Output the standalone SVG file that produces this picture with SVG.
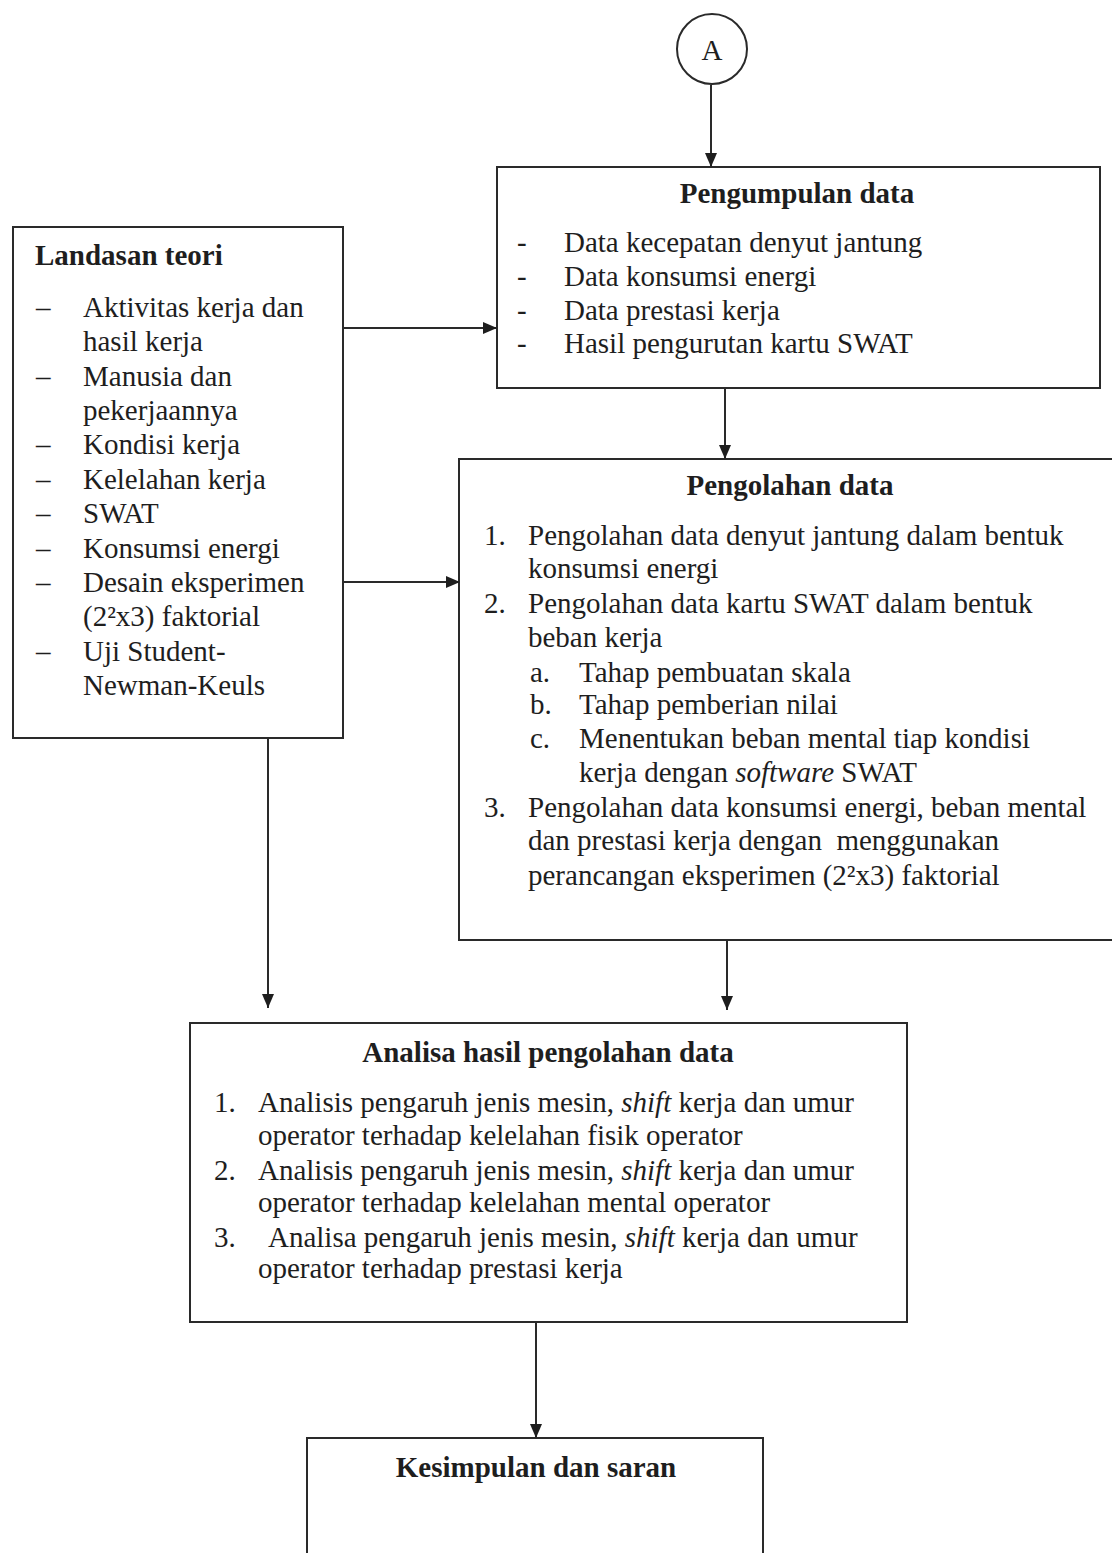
<svg xmlns="http://www.w3.org/2000/svg" width="1112" height="1553" viewBox="0 0 1112 1553">
<style>
.box{fill:none;stroke:#2a2a2a;stroke-width:2}
.t{font-family:"Liberation Serif","Times New Roman",serif;font-size:29px;fill:#1e1e1e}
.b{font-weight:bold;text-anchor:middle}
.i{font-style:italic}
.con{fill:none;stroke:#2a2a2a;stroke-width:2}
</style>
<defs>
<marker id="ah" markerUnits="userSpaceOnUse" markerWidth="14" markerHeight="14" viewBox="0 0 14 14" refX="14" refY="7" orient="auto">
<path d="M0,1 L14,7 L0,13 Z" fill="#1e1e1e"/>
</marker>
</defs>
<rect width="1112" height="1553" fill="#ffffff"/>

<g id="node-a">
<circle cx="712" cy="49" r="35" class="box"/>
<text x="712" y="60" class="t" text-anchor="middle" font-size="27">A</text>
</g>

<g id="node-pengumpulan">
<rect x="497" y="167" width="603" height="221" class="box"/>
<text x="797" y="203" class="t b">Pengumpulan data</text>
<text x="517" y="252" class="t">-</text><text x="564" y="252" class="t">Data kecepatan denyut jantung</text>
<text x="517" y="286" class="t">-</text><text x="564" y="286" class="t">Data konsumsi energi</text>
<text x="517" y="320" class="t">-</text><text x="564" y="320" class="t">Data prestasi kerja</text>
<text x="517" y="353" class="t">-</text><text x="564" y="353" class="t">Hasil pengurutan kartu SWAT</text>
</g>

<g id="node-landasan">
<rect x="13" y="227" width="330" height="511" class="box"/>
<text x="35" y="265" class="t" font-weight="bold">Landasan teori</text>
<text x="36" y="317" class="t">–</text><text x="83" y="317" class="t">Aktivitas kerja dan</text>
<text x="83" y="351" class="t">hasil kerja</text>
<text x="36" y="386" class="t">–</text><text x="83" y="386" class="t">Manusia dan</text>
<text x="83" y="420" class="t">pekerjaannya</text>
<text x="36" y="454" class="t">–</text><text x="83" y="454" class="t">Kondisi kerja</text>
<text x="36" y="489" class="t">–</text><text x="83" y="489" class="t">Kelelahan kerja</text>
<text x="36" y="523" class="t">–</text><text x="83" y="523" class="t">SWAT</text>
<text x="36" y="558" class="t">–</text><text x="83" y="558" class="t">Konsumsi energi</text>
<text x="36" y="592" class="t">–</text><text x="83" y="592" class="t">Desain eksperimen</text>
<text x="83" y="626" class="t">(2²x3) faktorial</text>
<text x="36" y="661" class="t">–</text><text x="83" y="661" class="t">Uji Student-</text>
<text x="83" y="695" class="t">Newman-Keuls</text>
</g>

<g id="node-pengolahan">
<rect x="459" y="459" width="670" height="481" class="box"/>
<text x="790" y="495" class="t b">Pengolahan data</text>
<text x="484" y="545" class="t">1.</text><text x="528" y="545" class="t">Pengolahan data denyut jantung dalam bentuk</text>
<text x="528" y="578" class="t">konsumsi energi</text>
<text x="484" y="613" class="t">2.</text><text x="528" y="613" class="t">Pengolahan data kartu SWAT dalam bentuk</text>
<text x="528" y="647" class="t">beban kerja</text>
<text x="530" y="682" class="t">a.</text><text x="579" y="682" class="t">Tahap pembuatan skala</text>
<text x="530" y="714" class="t">b.</text><text x="579" y="714" class="t">Tahap pemberian nilai</text>
<text x="530" y="748" class="t">c.</text><text x="579" y="748" class="t">Menentukan beban mental tiap kondisi</text>
<text x="579" y="782" class="t">kerja dengan <tspan class="i">software</tspan> SWAT</text>
<text x="484" y="817" class="t">3.</text><text x="528" y="817" class="t">Pengolahan data konsumsi energi, beban mental</text>
<text x="528" y="850" class="t" xml:space="preserve">dan prestasi kerja dengan  menggunakan</text>
<text x="528" y="885" class="t">perancangan eksperimen (2²x3) faktorial</text>
</g>

<g id="node-analisa">
<rect x="190" y="1023" width="717" height="299" class="box"/>
<text x="548" y="1062" class="t b">Analisa hasil pengolahan data</text>
<text x="214" y="1112" class="t">1.</text><text x="258" y="1112" class="t">Analisis pengaruh jenis mesin, <tspan class="i">shift</tspan> kerja dan umur</text>
<text x="258" y="1145" class="t">operator terhadap kelelahan fisik operator</text>
<text x="214" y="1180" class="t">2.</text><text x="258" y="1180" class="t">Analisis pengaruh jenis mesin, <tspan class="i">shift</tspan> kerja dan umur</text>
<text x="258" y="1212" class="t">operator terhadap kelelahan mental operator</text>
<text x="214" y="1247" class="t">3.</text><text x="268" y="1247" class="t">Analisa pengaruh jenis mesin, <tspan class="i">shift</tspan> kerja dan umur</text>
<text x="258" y="1278" class="t">operator terhadap prestasi kerja</text>
</g>

<g id="node-kesimpulan">
<rect x="307" y="1438" width="456" height="140" class="box"/>
<text x="536" y="1477" class="t b">Kesimpulan dan saran</text>
</g>

<g id="connectors">
<path class="con" d="M711 85 V167" marker-end="url(#ah)"/>
<path class="con" d="M343 328 H497" marker-end="url(#ah)"/>
<path class="con" d="M343 582 H460" marker-end="url(#ah)"/>
<path class="con" d="M725 388 V459" marker-end="url(#ah)"/>
<path class="con" d="M268 738 V1008" marker-end="url(#ah)"/>
<path class="con" d="M727 940 V1010" marker-end="url(#ah)"/>
<path class="con" d="M536 1322 V1438" marker-end="url(#ah)"/>
</g>
</svg>
